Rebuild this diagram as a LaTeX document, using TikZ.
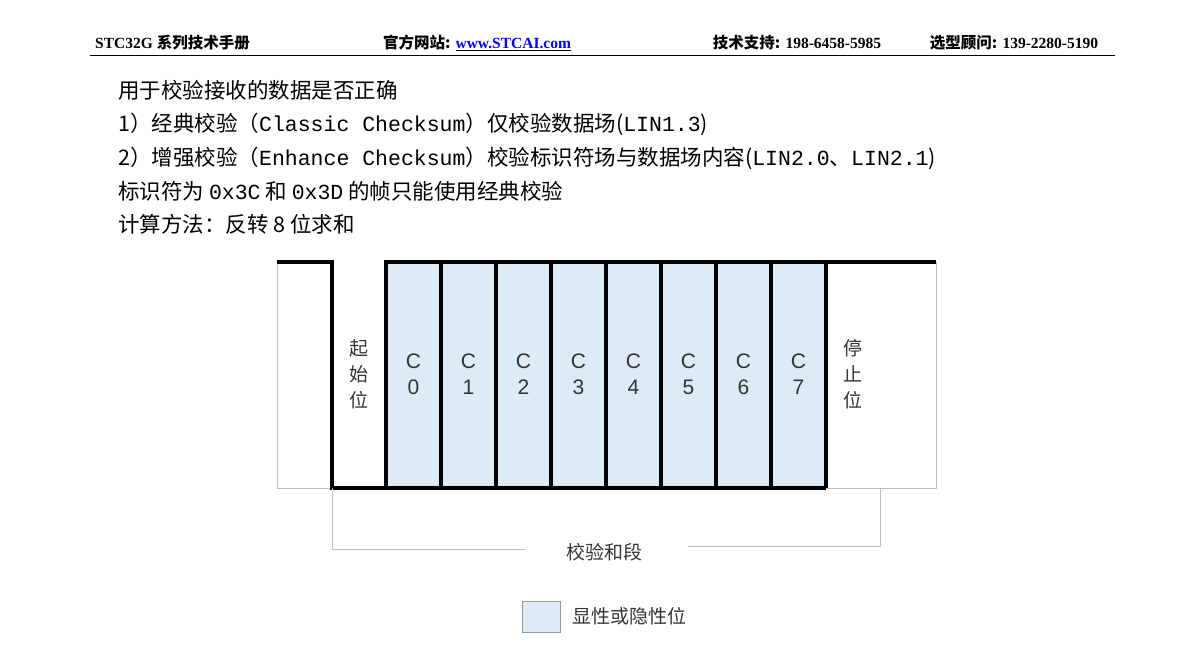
\documentclass[tikz,border=0pt]{standalone}
\usepackage{fontspec}
\setmainfont{Liberation Serif}
\newfontfamily\cjk{Noto Sans CJK SC}
\newfontfamily\cjkmono{Liberation Mono}
\newfontfamily\lsans{Liberation Sans}
\definecolor{bitblue}{HTML}{DDEBF7}
\tikzset{
  sig/.style={line width=4pt},
  frame/.style={line width=0.6pt, draw=black!25},
  cell/.style={fill=bitblue},
  lbl/.style={font=\cjk\fontsize{19}{22}\selectfont, align=center, inner sep=0pt, text=black!80},
  bitlbl/.style={font=\lsans\fontsize{21}{26}\selectfont, align=center, inner sep=0pt, text=black!80},
  txt/.style={font=\cjk\fontsize{21.5}{24}\selectfont, anchor=west, inner sep=0pt},
  hdr/.style={font=\bfseries\fontsize{15.5}{17}\selectfont, inner sep=0pt}
}
\begin{document}
\begin{tikzpicture}[x=1pt,y=-1pt]
  \useasboundingbox (0,0) rectangle (1183,662);
  % header
  \node [hdr, anchor=west] (h1) at (95,43) {STC32G {\cjk\bfseries 系列技术手册}};
  \node [hdr] (h2) at (477,43) {{\cjk\bfseries 官方网站:} \underline{\textcolor{blue}{www.STCAI.com}}};
  \node [hdr] (h3) at (797,43) {{\cjk\bfseries 技术支持:} 198-6458-5985};
  \node [hdr] (h4) at (1014,43) {{\cjk\bfseries 选型顾问:} 139-2280-5190};
  \draw [line width=1pt] (90,55) -- (1115,55);
  % text lines
  \node [txt] (t1) at (118,90) {用于校验接收的数据是否正确};
  \node [txt] (t2) at (118,124) {1）经典校验（{\cjkmono Classic Checksum}）仅校验数据场({\cjkmono LIN1.3})};
  \node [txt] (t3) at (118,158) {2）增强校验（{\cjkmono Enhance Checksum}）校验标识符场与数据场内容({\cjkmono LIN2.0}、{\cjkmono LIN2.1})};
  \node [txt] (t4) at (118,191) {标识符为 {\cjkmono 0x3C} 和 {\cjkmono 0x3D} 的帧只能使用经典校验};
  \node [txt] (t5) at (118,224) {计算方法：反转 8 位求和};
  % thin frame
  \draw [frame] (277,262) -- (277,488) -- (332,488);
  \draw [frame] (936,262) -- (936,488) -- (826,488);
  % cells
  \foreach \i in {0,...,7}{
    \fill [cell] (386+55*\i,262) rectangle (441+55*\i,488);
    \node [bitlbl] (c\i) at (413.5+55*\i,374) {C\\\i};
  }
  \foreach \i in {1,...,8}
    \draw [sig] (386+55*\i,262) -- (386+55*\i,488);
  \draw [sig, line join=miter] (277,262) -- (332,262) -- (332,488) -- (826,488);
  \draw [sig, line join=miter] (386,488) -- (386,262) -- (936,262);
  \node [lbl] (start) at (359,374) {起\\[4pt]始\\[4pt]位};
  \node [lbl] (stop) at (853,374) {停\\[4pt]止\\[4pt]位};
  % bracket
  \node [lbl] (sum) at (604,552) {校验和段};
  \draw [frame] (332,488) -- (332,549) -- (525,549);
  \draw [frame] (688,546) -- (880,546) -- (880,488);
  % legend
  \draw [frame, draw=black!40, fill=bitblue] (522,601) rectangle (560,632);
  \node [lbl, anchor=west] (leg) at (572,616) {显性或隐性位};
\end{tikzpicture}
\end{document}
